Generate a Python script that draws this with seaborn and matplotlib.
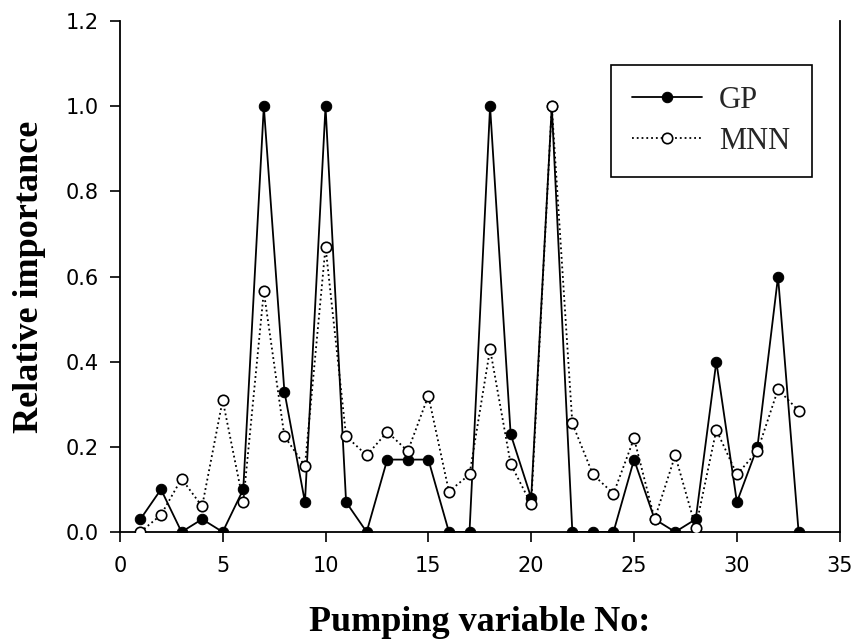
import matplotlib
matplotlib.use("Agg")
import matplotlib.pyplot as plt
from matplotlib import font_manager
import seaborn as sns
import pandas as pd

variables = list(range(1, 34))
gp_values = [0.03, 0.10, 0.0, 0.03, 0.0, 0.10, 1.0, 0.33, 0.07, 1.0,
             0.07, 0.0, 0.17, 0.17, 0.17, 0.0, 0.0, 1.0, 0.23, 0.08,
             1.0, 0.0, 0.0, 0.0, 0.17, 0.03, 0.0, 0.03, 0.40, 0.07,
             0.20, 0.60, 0.0]
mnn_values = [0.0, 0.04, 0.125, 0.06, 0.31, 0.07, 0.565, 0.225, 0.155, 0.67,
              0.225, 0.18, 0.235, 0.19, 0.32, 0.095, 0.135, 0.43, 0.16, 0.065,
              1.0, 0.255, 0.135, 0.09, 0.22, 0.03, 0.18, 0.01, 0.24, 0.135,
              0.19, 0.335, 0.285]
x_ticks = [0, 5, 10, 15, 20, 25, 30, 35]
y_ticks = [0.0, 0.2, 0.4, 0.6, 0.8, 1.0, 1.2]

sns.set_theme(style="white")
available = {f.name for f in font_manager.fontManager.ttflist}
tick_font = "Liberation Sans Narrow" if "Liberation Sans Narrow" in available else "DejaVu Sans"
serif = ["Liberation Serif", "DejaVu Serif"]

fig = plt.figure(figsize=(8.56, 6.44), dpi=100)
ax = fig.add_axes([0.140, 0.174, 0.841, 0.793])

gp_df = pd.DataFrame({"x": variables, "y": gp_values})
mnn_df = pd.DataFrame({"x": variables, "y": mnn_values})

sns.lineplot(data=gp_df, x="x", y="y", ax=ax, color="black", linewidth=1.3,
             marker="o", markersize=7.5, markerfacecolor="black",
             markeredgecolor="black", label="GP", zorder=3)
sns.lineplot(data=mnn_df, x="x", y="y", ax=ax, color="black", linewidth=1.3,
             linestyle=":", marker="o", markersize=7.5, markerfacecolor="white",
             markeredgecolor="black", markeredgewidth=1.2, label="MNN", zorder=4)

ax.set_xlim(0, 35)
ax.set_ylim(0, 1.2)
ax.set_xticks(x_ticks)
ax.set_yticks(y_ticks)
ax.set_xticklabels([str(t) for t in x_ticks], fontfamily=tick_font, fontsize=15)
ax.set_yticklabels([f"{t:.1f}" for t in y_ticks], fontfamily=tick_font, fontsize=15)
ax.tick_params(axis="both", direction="out", length=7, width=1.2, color="black",
               labelcolor="black", bottom=True, left=True)
ax.tick_params(axis="x", pad=10)
ax.tick_params(axis="y", pad=8)

for side in ["left", "bottom", "right"]:
    ax.spines[side].set_visible(True)
    ax.spines[side].set_color("black")
    ax.spines[side].set_linewidth(1.3)
ax.spines["top"].set_visible(False)

ax.set_xlabel("Pumping variable No:", fontfamily=serif, fontweight="bold",
              fontsize=26, labelpad=22, color="black")
ax.set_ylabel("Relative importance", fontfamily=serif, fontweight="bold",
              fontsize=26, labelpad=14, color="black")

leg = ax.legend(loc="upper right", bbox_to_anchor=(0.961, 0.915), frameon=True,
                fancybox=False, framealpha=1, edgecolor="black",
                prop={"family": serif, "size": 22}, handlelength=2.3,
                handletextpad=0.55, borderpad=0.7, labelspacing=0.38,
                borderaxespad=0)
leg.get_frame().set_linewidth(1.2)

fig.savefig("out.png", dpi=100)
